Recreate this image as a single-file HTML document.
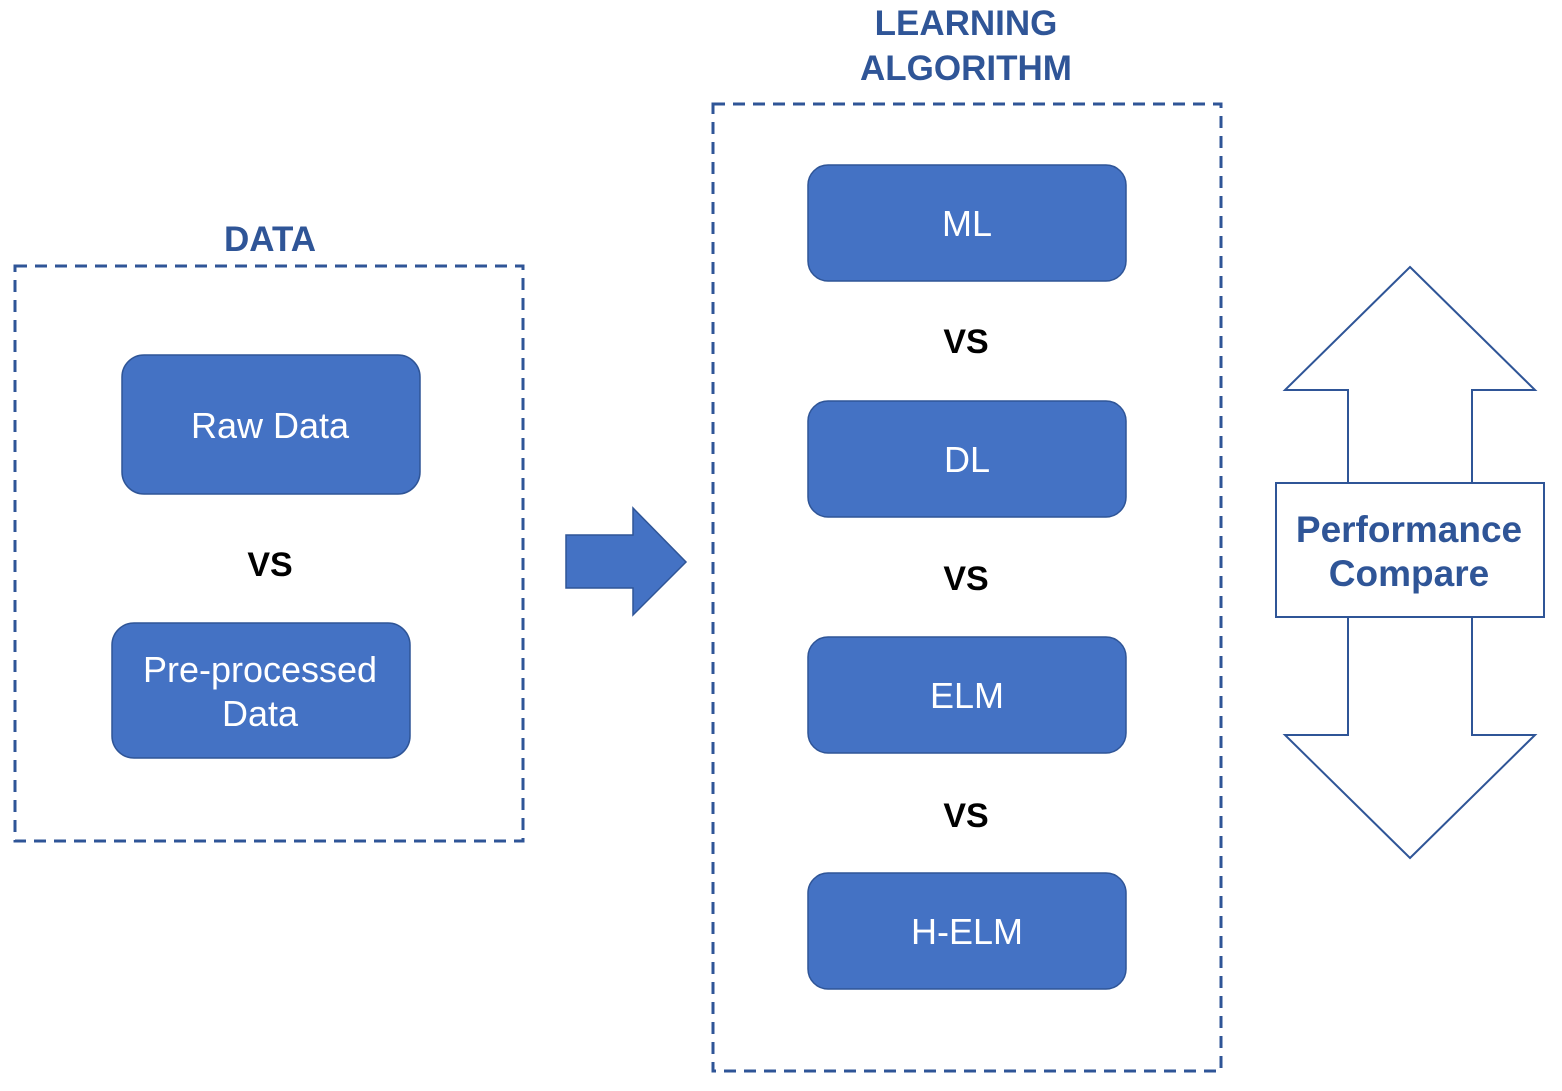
<!DOCTYPE html>
<html><head><style>body{margin:0;background:#fff}</style></head><body>
<svg width="1562" height="1086" xmlns="http://www.w3.org/2000/svg" font-family="'Liberation Sans',sans-serif">
<g fill="none" stroke="#2F5597" stroke-width="3" stroke-dasharray="12,8">
<rect x="15" y="266" width="508" height="575"/>
<rect x="713" y="104" width="508" height="967"/>
</g>
<g fill="#2F5597" font-weight="bold" font-size="35" text-anchor="middle">
<text x="270" y="251">DATA</text>
<text x="966" y="35">LEARNING</text>
<text x="966" y="80">ALGORITHM</text>
</g>
<g fill="#4472C4" stroke="#2F5597" stroke-width="1.5">
<rect x="122" y="355" width="298" height="139" rx="22"/>
<rect x="112" y="623" width="298" height="135" rx="22"/>
<rect x="808" y="165" width="318" height="116" rx="20"/>
<rect x="808" y="401" width="318" height="116" rx="20"/>
<rect x="808" y="637" width="318" height="116" rx="20"/>
<rect x="808" y="873" width="318" height="116" rx="20"/>
<polygon points="566,535 633,535 633,508 686,562 633,615 633,588 566,588"/>
</g>
<g fill="#fff" font-size="36" text-anchor="middle">
<text x="270" y="438">Raw Data</text>
<text x="260" y="682">Pre-processed</text>
<text x="260" y="726">Data</text>
<text x="967" y="236">ML</text>
<text x="967" y="472">DL</text>
<text x="967" y="708">ELM</text>
<text x="967" y="944">H-ELM</text>
</g>
<g fill="#000" font-weight="bold" font-size="34" text-anchor="middle">
<text x="270" y="576">VS</text>
<text x="966" y="353">VS</text>
<text x="966" y="590">VS</text>
<text x="966" y="827">VS</text>
</g>
<g fill="#fff" stroke="#2F5597" stroke-width="2">
<polygon points="1410,267 1535,390 1472,390 1472,483 1348,483 1348,390 1285,390"/>
<polygon points="1410,858 1535,735 1472,735 1472,617 1348,617 1348,735 1285,735"/>
<rect x="1276" y="483" width="268" height="134"/>
</g>
<g fill="#2F5597" font-weight="bold" font-size="37" text-anchor="middle">
<text x="1409" y="542">Performance</text>
<text x="1409" y="586">Compare</text>
</g>
</svg>
</body></html>
